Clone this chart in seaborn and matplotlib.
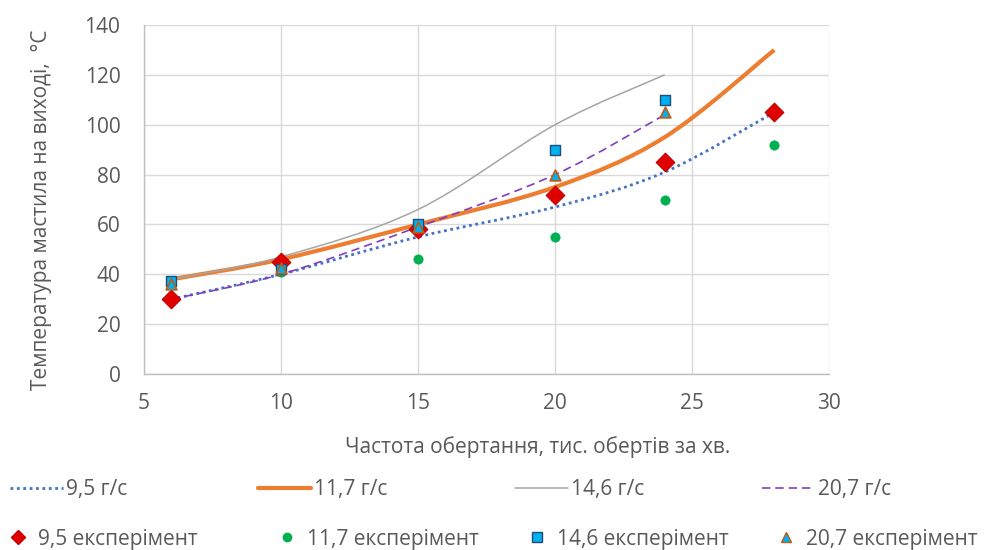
import numpy as np
import matplotlib
matplotlib.use("Agg")
import matplotlib.pyplot as plt
from matplotlib.path import Path
from matplotlib.patches import PathPatch
from matplotlib.lines import Line2D
import seaborn as sns

# model curves (smoothed lines)
x_95 = [6, 10, 15, 20, 24, 28]
y_95 = [30, 40, 55, 67, 81, 105]
x_117 = [6, 10, 15, 20, 24, 28]
y_117 = [38, 46, 60, 75, 95, 130]
x_146 = [6, 10, 15, 20, 24]
y_146 = [38, 47, 66, 100, 120]
x_207 = [6, 10, 15, 20, 24]
y_207 = [30, 40, 59, 80, 104]

# experiment points
ex_95_x = [6, 10, 15, 20, 24, 28]
ex_95_y = [30, 45, 58, 72, 85, 105]
ex_117_x = [6, 10, 15, 20, 24, 28]
ex_117_y = [36, 41, 46, 55, 70, 92]
ex_146_x = [6, 10, 15, 20, 24]
ex_146_y = [37.5, 42, 60, 90, 110]
ex_207_x = [6, 10, 15, 20, 24]
ex_207_y = [36, 42.5, 59, 80, 105]

line_labels = ["9,5 г/с", "11,7 г/с", "14,6 г/с", "20,7 г/с"]
exp_labels = ["9,5 експерімент", "11,7 експерімент", "14,6 експерімент", "20,7 експерімент"]

sns.set_theme(style="white")
plt.rcParams['font.family'] = ['Open Sans', 'DejaVu Sans']

txt = "#595959"
grid = "#d9d9d9"
fs = 15


def smooth_path(xs, ys):
    # Excel-like smoothed line: cubic Bezier through the points
    p = np.column_stack([xs, ys]).astype(float)
    n = len(p)
    verts = [p[0]]
    codes = [Path.MOVETO]
    for i in range(n - 1):
        p0 = p[i - 1] if i > 0 else p[i]
        p3 = p[i + 2] if i + 2 < n else p[i + 1]
        c1 = p[i] + (p[i + 1] - p0) / 6
        c2 = p[i + 1] - (p3 - p[i]) / 6
        verts += [c1, c2, p[i + 1]]
        codes += [Path.CURVE4] * 3
    return Path(verts, codes)


fig = plt.figure(figsize=(10.03, 5.5), dpi=100)
ax = fig.add_axes([0.1436, 0.32, 0.683, 0.6345])

styles = [
    dict(color="#4472C4", lw=2.0, ls=(0, (1, 1.3))),
    dict(color="#ED7D31", lw=3.0, ls="-"),
    dict(color="#A5A5A5", lw=1.1, ls="-"),
    dict(color="#7F3FBF", lw=1.2, ls=(0, (5, 3))),
]
curves = [(x_95, y_95), (x_117, y_117), (x_146, y_146), (x_207, y_207)]
for (xs, ys), st in zip(curves, styles):
    ax.add_patch(PathPatch(smooth_path(xs, ys), fill=False, edgecolor=st["color"],
                           lw=st["lw"], ls=st["ls"], capstyle="butt", zorder=3))

mk = [
    dict(marker="D", s=90, color="#E00000", edgecolor="#C00000", linewidth=0.8),
    dict(marker="o", s=45, color="#00B050", edgecolor="#00B050", linewidth=0.5),
    dict(marker="s", s=60, color="#00B0F0", edgecolor="#1F4E79", linewidth=1.0),
    dict(marker="^", s=60, color="#00B0F0", edgecolor="#C55A11", linewidth=1.2),
]
pts = [(ex_95_x, ex_95_y), (ex_117_x, ex_117_y), (ex_146_x, ex_146_y), (ex_207_x, ex_207_y)]
for (xs, ys), m in zip(pts, mk):
    sns.scatterplot(x=xs, y=ys, ax=ax, zorder=4, **m)

ax.set_xlim(5, 30)
ax.set_ylim(0, 140)
ax.set_xticks(range(5, 31, 5))
ax.set_yticks(range(0, 141, 20))
ax.grid(True, color=grid, lw=1.0)
for s in ["top", "right"]:
    ax.spines[s].set_visible(False)
for s in ["left", "bottom"]:
    ax.spines[s].set_color("#bfbfbf")
    ax.spines[s].set_linewidth(1.0)
ax.tick_params(axis="both", colors=txt, labelsize=fs, length=0)
ax.tick_params(axis="x", pad=14)
ax.tick_params(axis="y", pad=17)
ax.set_xlabel("Частота обертання, тис. обертів за хв.", color=txt, fontsize=fs)
ax.set_ylabel("Температура мастила на виході,  °С", color=txt, fontsize=fs)
ax.xaxis.set_label_coords(0.574, -0.178)
ax.yaxis.set_label_coords(-0.134, 0.47)

# legend: one entry per slot, two rows
W, H = 1003, 550
mk_legend_size = [7, 6, 6.5, 6.5]
line_handles = [Line2D([], [], color=st["color"], lw=st["lw"], ls=st["ls"]) for st in styles]
mk_handles = [Line2D([], [], ls="", marker=m["marker"], markersize=ms,
                     markerfacecolor=m["color"], markeredgecolor=m["edgecolor"])
              for m, ms in zip(mk, mk_legend_size)]
line_x = [10, 258, 515, 762]
mk_x = [8, 277, 527, 776]
for h, lab, x0 in zip(line_handles, line_labels, line_x):
    fig.legend([h], [lab], loc="center left", bbox_to_anchor=(x0 / W, 1 - 490 / H),
               frameon=False, fontsize=fs, handlelength=2.55, handletextpad=0.15,
               borderpad=0, borderaxespad=0, labelcolor=txt)
for h, lab, x0 in zip(mk_handles, exp_labels, mk_x):
    fig.legend([h], [lab], loc="center left", bbox_to_anchor=(x0 / W, 1 - 539 / H),
               frameon=False, fontsize=fs, handlelength=1.0, handletextpad=0.45,
               borderpad=0, borderaxespad=0, labelcolor=txt)

fig.savefig("out.png", dpi=100)
